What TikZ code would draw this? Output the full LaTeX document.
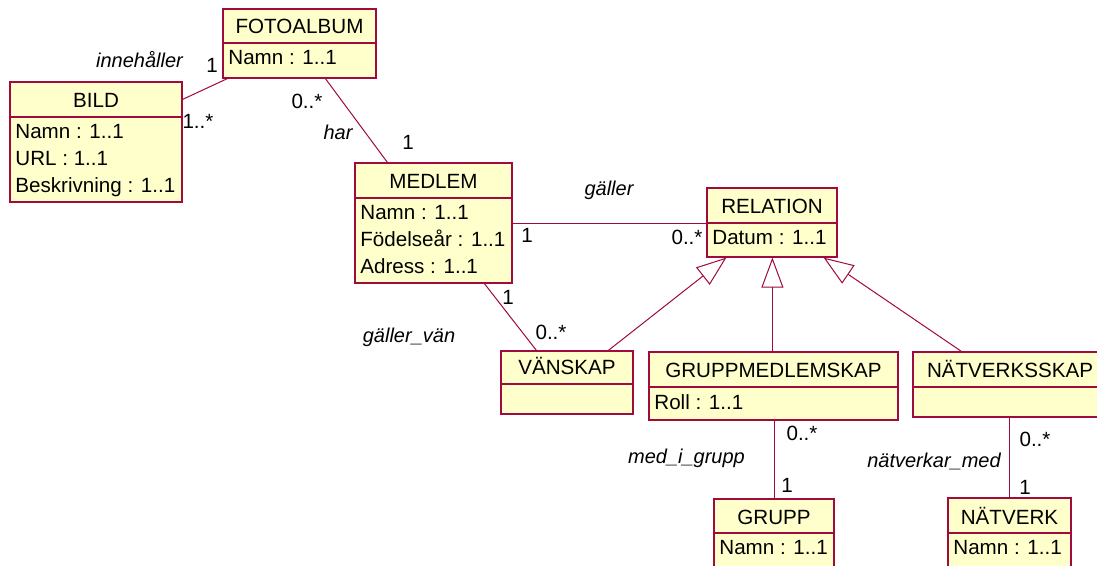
\documentclass[tikz,border=0pt]{standalone}
\usepackage{fontspec}
\setmainfont{Liberation Sans}
\usetikzlibrary{arrows.meta,calc,fit}

\definecolor{umlred}{RGB}{160,10,60}
\definecolor{umlfill}{RGB}{255,255,204}

\tikzset{
  classbox/.style={rectangle, draw=umlred, fill=umlfill, line width=0.6pt, inner sep=0pt},
  divider/.style={draw=umlred, line width=0.6pt},
  classtitle/.style={anchor=base, inner sep=0pt},
  classattr/.style={anchor=north west, inner sep=0pt, align=left},
  assoc/.style={draw=umlred, line width=0.5pt},
  generalization/.style={assoc, -{Triangle[open, length=15pt, width=11pt]}},
  rolename/.style={anchor=base, inner sep=0pt, font=\itshape},
  mult/.style={anchor=base, inner sep=0pt},
}

% #1 name, #2 left, #3 top, #4 right, #5 bottom, #6 divider, #7 title, #8 attributes
\newcommand{\umlclass}[8]{%
  \node[classbox, fit={(#2,#3) (#4,#5)}] (#1) {};
  \draw[divider] (#2,#6) -- (#4,#6);
  \node[classtitle] (#1-title) at ({(#2+#4)/2},{#6-9}) {#7};
  \node[classattr] (#1-attr) at ({#2+5},{#6+7}) {#8};
}

\begin{document}
\begin{tikzpicture}[x=0.5pt, y=-0.5pt, font=\fontsize{10.3}{13.5}\selectfont]
  \useasboundingbox (0,0) rectangle (1097,566);
  \clip (0,0) rectangle (1097,566);
  \fill[white] (0,0) rectangle (1097,566);

  % classes
  \umlclass{foto}{223}{9}{376}{78}{43}{FOTOALBUM}{Namn : 1..1}
  \umlclass{bild}{10}{82}{182}{202}{117}{BILD}{Namn : 1..1\\URL : 1..1\\Beskrivning : 1..1}
  \umlclass{medlem}{355}{163}{512}{283}{198}{MEDLEM}{Namn : 1..1\\Födelseår : 1..1\\Adress : 1..1}
  \umlclass{relation}{707}{188}{837}{257}{223}{RELATION}{Datum : 1..1}
  \umlclass{vanskap}{501}{351}{633}{414}{384}{VÄNSKAP}{}
  \umlclass{gm}{649}{352}{898}{420}{387}{GRUPPMEDLEMSKAP}{Roll : 1..1}
  \umlclass{nvskap}{913}{352}{1107}{417}{387}{NÄTVERKSSKAP}{}
  \umlclass{grupp}{714}{499}{834}{572}{533}{GRUPP}{Namn : 1..1}
  \umlclass{natverk}{948}{498}{1071}{572}{533}{NÄTVERK}{Namn : 1..1}

  % associations
  \draw[assoc] ($(bild.north east)+(0,18)$) -- ($(foto.south west)+(5,0)$);
  \draw[assoc] ($(foto.south west)+(103,0)$) -- ($(medlem.north west)+(33,0)$);
  \draw[assoc] ($(medlem.north east)+(0,61)$) -- ($(relation.north west)+(0,36)$);
  \draw[assoc] ($(medlem.south west)+(130,0)$) -- ($(vanskap.north west)+(36,0)$);
  \draw[assoc] ($(gm.south west)+(126,0)$) -- ($(grupp.north west)+(61,0)$);
  \draw[assoc] ($(nvskap.south west)+(97,0)$) -- ($(natverk.north west)+(62,0)$);

  % generalizations
  \draw[generalization] ($(vanskap.north west)+(108,0)$) -- ($(relation.south west)+(20,0)$);
  \draw[generalization] ($(gm.north west)+(124,0)$) -- ($(relation.south west)+(66,0)$);
  \draw[generalization] ($(nvskap.north west)+(49,0)$) -- ($(relation.south east)+(-14,0)$);

  % role names
  \node[rolename] (r-innehaller) at (139.5,68) {innehåller};
  \node[rolename] (r-har) at (338,140) {har};
  \node[rolename] (r-galler) at (609,196) {gäller};
  \node[rolename] (r-gallervan) at (409,343) {gäller\_vän};
  \node[rolename] (r-medigrupp) at (686.5,463) {med\_i\_grupp};
  \node[rolename] (r-natverkar) at (934,467) {nätverkar\_med};

  % multiplicities
  \node[mult] (m-foto-bild) at (212,73) {1};
  \node[mult] (m-bild) at (198,129) {1..*};
  \node[mult] (m-foto-medlem) at (307,109) {0..*};
  \node[mult] (m-medlem-foto) at (408,150) {1};
  \node[mult] (m-medlem-rel) at (527,243) {1};
  \node[mult] (m-rel) at (687,245) {0..*};
  \node[mult] (m-medlem-van) at (508,305) {1};
  \node[mult] (m-van) at (551,340) {0..*};
  \node[mult] (m-gm) at (802,440) {0..*};
  \node[mult] (m-grupp) at (787,492) {1};
  \node[mult] (m-nvskap) at (1035,446) {0..*};
  \node[mult] (m-natverk) at (1025,494) {1};
\end{tikzpicture}
\end{document}
